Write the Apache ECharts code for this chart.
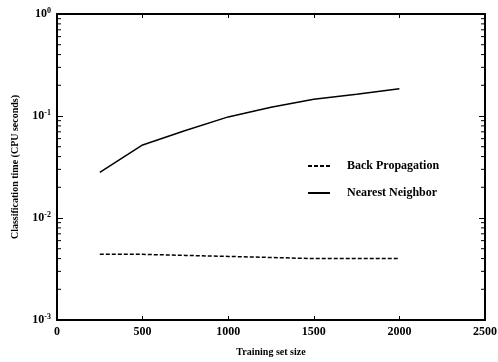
<!DOCTYPE html>
<html><head><meta charset="utf-8">
<script src="https://cdn.jsdelivr.net/npm/echarts@6/dist/echarts.min.js"></script>
<style>html,body{margin:0;padding:0;background:#fff}#c{width:498px;height:362px}</style>
</head><body><div id="c"></div>
<script>
const trainingSizes = [250, 500, 750, 1000, 1250, 1500, 1750, 2000];
const backPropagation = [0.0044, 0.0044, 0.0043, 0.0042, 0.0041, 0.0040, 0.0040, 0.0040];
const nearestNeighbor = [0.028, 0.052, 0.072, 0.098, 0.122, 0.146, 0.163, 0.185];
const seriesNames = ['Back Propagation', 'Nearest Neighbor'];
const xTicks = [0, 500, 1000, 1500, 2000, 2500];
const yDecades = [0.001, 0.01, 0.1, 1];

const font = 'Liberation Serif';
const minorVals = [];
for (let k = 0; k < yDecades.length - 1; k++) {
  for (let m = 2; m <= 9; m++) minorVals.push(yDecades[k] * m);
}

const chart = echarts.init(document.getElementById('c'));
function supLabel(v) {
  const e = Math.round(Math.log10(v));
  return '{b|10}{s|' + (e === 0 ? '0' : String(e)) + '}';
}
const richLbl = {
  b: {fontFamily: font, fontSize: 12, color: '#000', fontWeight: 'bold'},
  s: {fontFamily: font, fontSize: 8, color: '#000', fontWeight: 'bold', verticalAlign: 'top', padding: [0,0,6,0]}
};
chart.setOption({
  backgroundColor: '#fff',
  animation: false,
  grid: {left: 57, right: 13, top: 14, bottom: 42, outerBoundsMode: 'none', containLabel: false},
  legend: {
    orient: 'vertical', left: 302, top: 155, itemGap: 15, itemWidth: 22, itemHeight: 6,
    itemStyle: {opacity: 0},
    data: seriesNames.map(n => ({name: n})),
    textStyle: {fontFamily: font, fontSize: 12, color: '#000', fontWeight: 'bold', padding: [0,0,0,12]}
  },
  xAxis: [{
    type: 'value', min: 0, max: 2500, interval: 500,
    name: 'Training set size', nameLocation: 'middle', nameGap: 27,
    nameTextStyle: {fontFamily: font, fontSize: 10, fontWeight: 'bold', color: '#000'},
    axisLine: {lineStyle: {color: '#000', width: 2}},
    axisTick: {inside: true, length: 4, lineStyle: {color: '#000'}},
    axisLabel: {fontFamily: font, fontSize: 12, fontWeight: 'bold', color: '#000', margin: 6,
      formatter: v => String(v)},
    splitLine: {show: false}
  }, {
    type: 'value', min: 0, max: 2500, interval: 500, position: 'top',
    axisLine: {show: true, lineStyle: {color: '#000', width: 2}},
    axisTick: {inside: true, length: 4, lineStyle: {color: '#000'}},
    axisLabel: {show: false}, splitLine: {show: false}
  }],
  yAxis: [{
    type: 'log', min: 0.001, max: 1, logBase: 10,
    name: 'Classification time (CPU seconds)', nameLocation: 'middle', nameGap: 37,
    nameTextStyle: {fontFamily: font, fontSize: 10, fontWeight: 'bold', color: '#000'},
    axisLine: {lineStyle: {color: '#000', width: 2}},
    axisTick: {inside: true, length: 6, lineStyle: {color: '#000'}},
    axisLabel: {formatter: supLabel, rich: richLbl, margin: 6},
    splitLine: {show: false}
  }, {
    type: 'value', min: 0, max: 3, interval: 1, position: 'right',
    axisLine: {show: true, onZero: false, lineStyle: {color: '#000', width: 2}},
    axisTick: {show: true, inside: true, length: 6, lineStyle: {color: '#000'}},
    axisLabel: {show: false}, splitLine: {show: false}
  }],
  series: [{
    name: seriesNames[0], type: 'line', data: trainingSizes.map((x, i) => [x, backPropagation[i]]),
    showSymbol: false, symbol: 'none', color: '#000',
    lineStyle: {color: '#000', width: 1.5, type: [4, 2]}
  }, {
    name: seriesNames[1], type: 'line', data: trainingSizes.map((x, i) => [x, nearestNeighbor[i]]),
    showSymbol: false, symbol: 'none', color: '#000',
    lineStyle: {color: '#000', width: 1.5}
  }, {
    type: 'custom', silent: true, xAxisIndex: 0, yAxisIndex: 0,
    encode: {x: 0, y: 1},
    data: minorVals.map(v => [0, v]),
    renderItem: function (params, api) {
      const v = api.value(1);
      const pl = api.coord([0, v]);
      const pr = api.coord([2500, v]);
      return {type: 'group', children: [
        {type: 'line', shape: {x1: pl[0], y1: pl[1], x2: pl[0] + 4, y2: pl[1]}, style: {stroke: '#000', lineWidth: 1}},
        {type: 'line', shape: {x1: pr[0], y1: pr[1], x2: pr[0] - 4, y2: pr[1]}, style: {stroke: '#000', lineWidth: 1}}
      ]};
    }
  }]
});
</script></body></html>
